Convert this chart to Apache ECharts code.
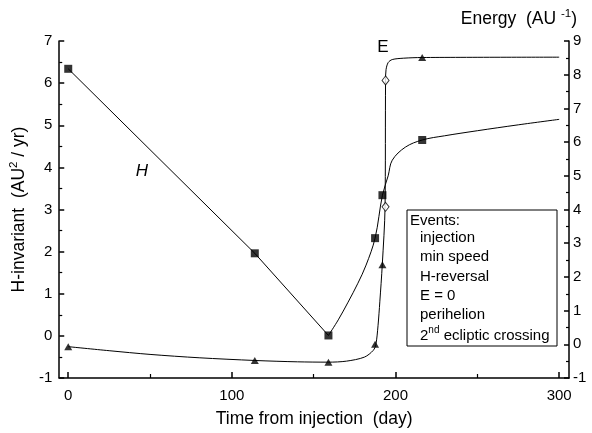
<!DOCTYPE html>
<html>
<head>
<meta charset="utf-8">
<script src="https://cdn.jsdelivr.net/npm/echarts@6/dist/echarts.min.js"></script>
<style>
html,body{margin:0;padding:0;background:#fff;}
#chart{width:592px;height:433px;}
</style>
</head>
<body>
<div id="chart"></div>
<script>
// ---- data ----
var xTickLabels = [0, 100, 200, 300];
var xMinorTicks = [50, 150, 250];
// H-invariant (AU^2/yr): straight decline, then curved rise
var hLinearDays = [0, 114, 159];
var hLinearVals = [6.34, 1.96, 0.01];
var hCurveDays = [159, 165, 171, 177, 182, 187.5, 192, 195.5, 198, 206, 216.3, 230, 250, 275, 300];
var hCurveVals = [0.01, 0.38, 0.80, 1.25, 1.68, 2.32, 3.34, 3.80, 4.17, 4.48, 4.65, 4.75, 4.87, 5.01, 5.14];
// H markers at events
var eventDays = [0, 114, 159, 187.5, 192, 216.3];
var hEventVals = [6.34, 1.96, 0.01, 2.32, 3.34, 4.65];
// Energy curve (AU^-1)
var eCurveDays = [0, 25, 50, 80, 114, 140, 159, 170, 181, 186.4, 188, 189.3, 190.4, 191.9, 193.6, 193.9, 194.2, 195.5, 198, 205, 216.3, 300];
var eCurveVals = [-0.07, -0.19, -0.30, -0.40, -0.48, -0.52, -0.53, -0.50, -0.38, -0.18, 0.0, 0.55, 1.26, 2.36, 4.08, 7.83, 8.15, 8.36, 8.45, 8.49, 8.51, 8.52];
// Energy markers at events
var eEventVals = [-0.07, -0.48, -0.53, 0.0, 2.36, 8.51];
// open diamonds on the steep energy rise
var diamondDays = [193.9, 193.9];
var diamondVals = [4.08, 7.83];
var eventNames = ['injection', 'min speed', 'H-reversal', 'E = 0', 'perihelion'];

function pairs(xs, ys){ return xs.map(function(x,i){ return [x, ys[i]]; }); }

var FONT = '"Liberation Sans", Arial, sans-serif';
var chart = echarts.init(document.getElementById('chart'), null, {renderer:'canvas'});

var legendTexts = [{
  type:'text',
  style:{x:410, y:221, text:'Events:', font:'15px ' + FONT, fill:'#000', verticalAlign:'middle'}
}];
eventNames.forEach(function(n,i){
  legendTexts.push({
    type:'text',
    style:{x:420, y:238 + i*19.2, text:n, font:'15px ' + FONT, fill:'#000', verticalAlign:'middle'}
  });
});
legendTexts.push({
  type:'text',
  style:{
    x:420, y:334, verticalAlign:'middle',
    text:'{n|2}{s|nd}{n| ecliptic crossing}',
    rich:{
      n:{fontSize:15, fontFamily:FONT, color:'#000', lineHeight:18, verticalAlign:'bottom'},
      s:{fontSize:10, fontFamily:FONT, color:'#000', lineHeight:18, verticalAlign:'top'}
    }
  }
});

var option = {
  backgroundColor:'#fff',
  animation:false,
  grid:{left:57, right:23, top:41, bottom:54},
  xAxis:[{
    type:'value', min:-5.5, max:306,
    name:'Time from injection  (day)', nameLocation:'middle', nameGap:32,
    nameTextStyle:{fontSize:17.5, fontFamily:FONT, color:'#000'},
    axisLine:{show:true, onZero:false, lineStyle:{color:'#000', width:1.5}},
    axisTick:{show:true, inside:true, length:6, customValues:xTickLabels, lineStyle:{color:'#000', width:1.5}},
    axisLabel:{show:true, customValues:xTickLabels, fontSize:15, fontFamily:FONT, color:'#000', margin:10},
    splitLine:{show:false}
  },{
    type:'value', min:-5.5, max:306, position:'bottom',
    axisLine:{show:false, onZero:false},
    axisTick:{show:true, inside:true, length:4, customValues:xMinorTicks, lineStyle:{color:'#000', width:1.2}},
    axisLabel:{show:false},
    splitLine:{show:false}
  }],
  yAxis:[{
    type:'value', min:-1, max:7, interval:1, position:'left',
    name:'{n|H-invariant  (AU}{s|2}{n| / yr)}', nameLocation:'middle', nameGap:28, nameRotate:90,
    nameTextStyle:{
      rich:{
        n:{fontSize:17.5, fontFamily:FONT, color:'#000', lineHeight:20, verticalAlign:'bottom'},
        s:{fontSize:11.5, fontFamily:FONT, color:'#000', lineHeight:20, verticalAlign:'top'}
      }
    },
    axisLine:{show:true, onZero:false, lineStyle:{color:'#000', width:1.5}},
    axisTick:{show:true, inside:true, length:5, lineStyle:{color:'#000', width:1.5}},
    minorTick:{show:true, splitNumber:2, length:3, lineStyle:{color:'#000', width:1.2}},
    axisLabel:{fontSize:15, fontFamily:FONT, color:'#000', margin:7},
    splitLine:{show:false}
  },{
    type:'value', min:-1, max:9, interval:1, position:'right',
    axisLine:{show:true, onZero:false, lineStyle:{color:'#000', width:1.5}},
    axisTick:{show:true, inside:true, length:5, lineStyle:{color:'#000', width:1.5}},
    minorTick:{show:true, splitNumber:2, length:3, lineStyle:{color:'#000', width:1.2}},
    axisLabel:{fontSize:15, fontFamily:FONT, color:'#000', margin:4},
    splitLine:{show:false}
  }],
  graphic:[
    {
      type:'text',
      style:{
        x:577, y:18, align:'right', verticalAlign:'middle',
        text:'{n|Energy  (AU }{s|-1}{n|)}',
        rich:{
          n:{fontSize:17.5, fontFamily:FONT, color:'#000', lineHeight:20, verticalAlign:'bottom'},
          s:{fontSize:11.5, fontFamily:FONT, color:'#000', lineHeight:20, verticalAlign:'top'}
        }
      }
    },
    {type:'text', style:{x:383, y:47, align:'center', verticalAlign:'middle', text:'E', font:'17px ' + FONT, fill:'#000'}},
    {type:'text', style:{x:142, y:171, align:'center', verticalAlign:'middle', text:'H', font:'italic 17px ' + FONT, fill:'#000'}},
    {type:'rect', shape:{x:407, y:210, width:150, height:136}, style:{fill:'#fff', stroke:'#000', lineWidth:1}, z:10}
  ].concat(legendTexts.map(function(t){ t.z = 11; return t; })),
  series:[
    {
      type:'line', xAxisIndex:0, yAxisIndex:0, data:pairs(hLinearDays, hLinearVals),
      smooth:false, showSymbol:false, symbol:'none',
      lineStyle:{color:'#000', width:1}, z:2
    },
    {
      type:'line', xAxisIndex:0, yAxisIndex:0, data:pairs(hCurveDays, hCurveVals),
      smooth:0.35, showSymbol:false, symbol:'none',
      lineStyle:{color:'#000', width:1}, z:2
    },
    {
      type:'scatter', xAxisIndex:0, yAxisIndex:0, data:pairs(eventDays, hEventVals),
      symbol:'rect', symbolSize:8, itemStyle:{color:'#000'}, z:3
    },
    {
      type:'line', xAxisIndex:0, yAxisIndex:1, data:pairs(eCurveDays, eCurveVals),
      smooth:0.3, showSymbol:false, symbol:'none',
      lineStyle:{color:'#000', width:1}, z:2
    },
    {
      type:'scatter', xAxisIndex:0, yAxisIndex:1, data:pairs(eventDays, eEventVals),
      symbol:'triangle', symbolSize:[8,7], itemStyle:{color:'#000'}, z:3
    },
    {
      type:'scatter', xAxisIndex:0, yAxisIndex:1, data:pairs(diamondDays, diamondVals),
      symbol:'diamond', symbolSize:[7,9], itemStyle:{color:'#fff', borderColor:'#000', borderWidth:1}, z:4
    }
  ]
};
chart.setOption(option);
</script>
</body>
</html>
